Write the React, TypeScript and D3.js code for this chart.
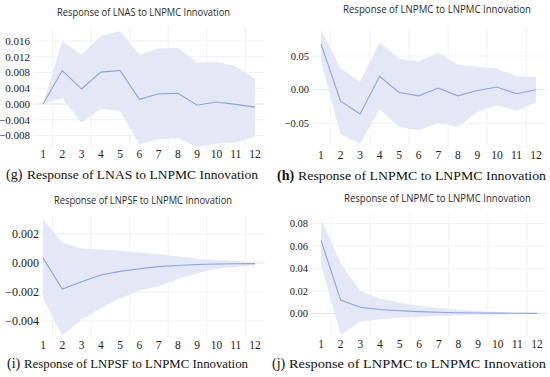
import React from "react";
import * as d3 from "d3";

// impulse response periods
const periods = [1, 2, 3, 4, 5, 6, 7, 8, 9, 10, 11, 12];

// (g) LNAS to LNPMC
const lnasResp = [0, 0.0085, 0.0038, 0.0081, 0.0085, 0.0012, 0.0026, 0.0027, -0.0003, 0.0005, -0.0001, -0.0008];
const lnasUpper = [0, 0.0159, 0.0125, 0.0173, 0.0185, 0.0125, 0.0141, 0.0142, 0.0105, 0.0107, 0.0095, 0.0064];
const lnasLower = [0, 0.0015, -0.0047, -0.0013, -0.0017, -0.0102, -0.0089, -0.0087, -0.0109, -0.01, -0.0098, -0.0083];

// (h) LNPMC to LNPMC
const pmcResp = [0.068, -0.017, -0.036, 0.02, -0.004, -0.009, 0.0025, -0.009, -0.001, 0.004, -0.006, 0.0];
const pmcUpper = [0.089, 0.032, 0.012, 0.07, 0.046, 0.042, 0.055, 0.037, 0.034, 0.031, 0.02, 0.019];
const pmcLower = [0.042, -0.066, -0.08, -0.029, -0.055, -0.06, -0.049, -0.055, -0.033, -0.023, -0.031, -0.019];

// (i) LNPSF to LNPMC
const psfResp = [0.00035, -0.0018, -0.0013, -0.00083, -0.00058, -0.0004, -0.00025, -0.00017, -0.0001, -0.00007, -0.00005, -0.00004];
const psfUpper = [0.003, 0.0014, 0.001, 0.00095, 0.00085, 0.0007, 0.00062, 0.00045, 0.0003, 0.0002, 0.00012, 0.00006];
const psfLower = [-0.0024, -0.005, -0.0039, -0.0031, -0.00245, -0.0019, -0.0016, -0.0011, -0.0007, -0.0004, -0.00025, -0.00015];

// (j) LNPMC to LNPMC (second model)
const pmc2Resp = [0.065, 0.0119, 0.0056, 0.0036, 0.0025, 0.0017, 0.0011, 0.0007, 0.0005, 0.0003, 0.0002, 0.0001];
const pmc2Upper = [0.0844, 0.0444, 0.0199, 0.0133, 0.0095, 0.0068, 0.0048, 0.0033, 0.0022, 0.0014, 0.0009, 0.0005];
const pmc2Lower = [0.0436, -0.0187, -0.0074, -0.005, -0.0038, -0.0028, -0.0021, -0.0015, -0.0011, -0.0008, -0.0005, -0.0003];

const gTicks = [-0.008, -0.004, 0, 0.004, 0.008, 0.012, 0.016];
const hTicks = [-0.05, 0, 0.05];
const iTicks = [-0.004, -0.002, 0, 0.002];
const jTicks = [0, 0.02, 0.04, 0.06, 0.08];

const gridX = [1.5, 3.5, 5.5, 7.5, 9.5, 11.5];

const BAND = "#e3e7f6";
const LINE = "#8ea3dc";
const GRID = "#eff1f5";
const ZERO = "#e2e5ec";
const SERIF = "'Liberation Serif', 'Times New Roman', serif";
const SANS = "'Open Sans', 'Noto Sans', sans-serif";

const panels = [
  {
    key: "g", label: "(g)", bold: false,
    title: "Response of LNAS to LNPMC Innovation",
    caption: "Response of LNAS to LNPMC Innovation",
    resp: lnasResp, upper: lnasUpper, lower: lnasLower,
    ticks: gTicks, fmt: ".3f",
    x0: 33.4, x1: 264.6, yDom: [-0.008, 0.016], yRng: [135.5, 41], top: 26, bottom: 149,
    tickX: 30, tickSize: 11, xLabY: 158,
    titleX: 143.5, titleY: 15.5, titleLen: 173,
    capStart: 6, capEnd: 258, capY: 179,
  },
  {
    key: "h", label: "(h)", bold: true,
    title: "Response of LNPMC to LNPMC Innovation",
    caption: "Response of LNPMC to LNPMC Innovation",
    resp: pmcResp, upper: pmcUpper, lower: pmcLower,
    ticks: hTicks, fmt: ".2f",
    x0: 311.2, x1: 545.8, yDom: [-0.05, 0.05], yRng: [123.5, 56], top: 26, bottom: 148,
    tickX: 309, tickSize: 10.5, xLabY: 159,
    titleX: 437, titleY: 12.5, titleLen: 188,
    capStart: 277, capEnd: 546, capY: 180,
  },
  {
    key: "i", label: "(i)", bold: false,
    title: "Response of LNPSF to LNPMC Innovation",
    caption: "Response of LNPSF to LNPMC Innovation",
    resp: psfResp, upper: psfUpper, lower: psfLower,
    ticks: iTicks, fmt: ".3f",
    x0: 33.4, x1: 264.6, yDom: [-0.004, 0.002], yRng: [321, 234], top: 216, bottom: 338,
    tickX: 39, tickSize: 12, xLabY: 349,
    titleX: 143, titleY: 204, titleLen: 178,
    capStart: 7, capEnd: 248, capY: 368,
  },
  {
    key: "j", label: "(j)", bold: false,
    title: "Response of LNPMC to LNPMC Innovation",
    caption: "Response of LNPMC to LNPMC Innovation",
    resp: pmc2Resp, upper: pmc2Upper, lower: pmc2Lower,
    ticks: jTicks, fmt: ".2f",
    x0: 311.2, x1: 546.8, yDom: [0, 0.08], yRng: [313.5, 223.5], top: 214, bottom: 336,
    tickX: 308, tickSize: 10.5, xLabY: 348,
    titleX: 437.5, titleY: 202, titleLen: 187,
    capStart: 272, capEnd: 546, capY: 368,
  },
];

const Panel = ({ p }) => {
  const x = d3.scaleLinear().domain([0.5, 12.5]).range([p.x0, p.x1]);
  const y = d3.scaleLinear().domain(p.yDom).range(p.yRng);
  const fmt = d3.format(p.fmt);

  const rows = periods.map((t, i) => ({ t, v: p.resp[i], hi: p.upper[i], lo: p.lower[i] }));

  const area = d3
    .area()
    .x((d) => x(d.t))
    .y0((d) => y(d.lo))
    .y1((d) => y(d.hi));
  const line = d3
    .line()
    .x((d) => x(d.t))
    .y((d) => y(d.v));

  // caption = label + text, label width is rough for a 14px serif
  const labelW = p.label === "(i)" || p.label === "(j)" ? 13 : 17;
  const restX = p.capStart + labelW + 4;

  return (
    <g>
      <text
        x={p.titleX}
        y={p.titleY}
        textAnchor="middle"
        fontFamily={SANS}
        fontSize={10.5}
        fill="#2a2a2a"
        textLength={p.titleLen}
        lengthAdjust="spacingAndGlyphs"
      >
        {p.title}
      </text>

      {/* grid */}
      {p.ticks.map((t) => (
        <line
          key={"h" + t}
          x1={p.x0}
          x2={p.x1}
          y1={y(t)}
          y2={y(t)}
          stroke={t === 0 ? ZERO : GRID}
          strokeWidth={1}
        />
      ))}
      {gridX.map((t) => (
        <line key={"v" + t} x1={x(t)} x2={x(t)} y1={p.top} y2={p.bottom} stroke={GRID} strokeWidth={1} />
      ))}

      <path d={area(rows)} fill={BAND} />
      <path d={line(rows)} fill="none" stroke={LINE} strokeWidth={1.1} />

      {p.ticks.map((t) => (
        <text
          key={"t" + t}
          x={p.tickX}
          y={y(t)}
          dy="0.35em"
          textAnchor="end"
          fontFamily={SERIF}
          fontSize={p.tickSize}
          fill="#222"
        >
          {fmt(t)}
        </text>
      ))}
      {periods.map((t) => (
        <text
          key={"x" + t}
          x={x(t)}
          y={p.xLabY}
          textAnchor="middle"
          fontFamily={SERIF}
          fontSize={11.5}
          fill="#222"
        >
          {t}
        </text>
      ))}

      <text
        x={p.capStart}
        y={p.capY}
        fontFamily={SERIF}
        fontSize={14}
        fontWeight={p.bold ? "bold" : "normal"}
        fill="#111"
      >
        {p.label}
      </text>
      <text
        x={restX}
        y={p.capY}
        fontFamily={SERIF}
        fontSize={13.5}
        fill="#111"
        textLength={p.capEnd - restX}
        lengthAdjust="spacingAndGlyphs"
      >
        {p.caption}
      </text>
    </g>
  );
};

export default function App() {
  return (
    <div style={{ position: "absolute", left: 0, top: 0, background: "#fff" }}>
      <svg width={550} height={377} style={{ display: "block" }}>
        <rect width={550} height={377} fill="#fff" />
        {panels.map((p) => (
          <Panel key={p.key} p={p} />
        ))}
      </svg>
    </div>
  );
}
